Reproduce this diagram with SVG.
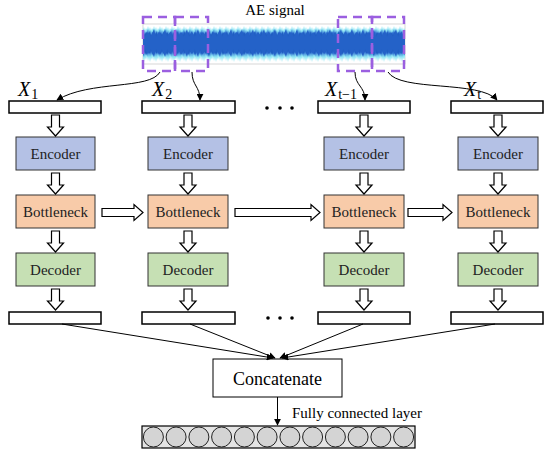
<svg xmlns="http://www.w3.org/2000/svg" width="550" height="452" viewBox="0 0 550 452">
<defs>
<style>
.lbl{font-family:"Liberation Serif","DejaVu Serif",serif;font-size:15px;fill:#222;text-anchor:middle}
.enc{fill:#b4c1e5;stroke:#333;stroke-width:1}
.bot{fill:#f8cba9;stroke:#333;stroke-width:1}
.dec{fill:#c6e0b4;stroke:#333;stroke-width:1}
.bar{fill:#fff;stroke:#000;stroke-width:1.5}
.hol{fill:#fff;stroke:#000;stroke-width:1.2}
.dash{fill:none;stroke:#9b5fe0;stroke-width:2.5;stroke-dasharray:9 6}
.con{fill:none;stroke:#000;stroke-width:1}
.xl{font-family:"Liberation Serif","DejaVu Serif",serif;font-style:italic;font-size:20px;fill:#000}
.xs{font-size:14px;font-style:normal}
.tx{font-family:"Liberation Serif","DejaVu Serif",serif;fill:#000}
</style>
<marker id="ah" viewBox="0 0 10 10" refX="9" refY="5" markerWidth="7" markerHeight="7" orient="auto-start-reverse" markerUnits="userSpaceOnUse">
<path d="M0,0 L10,5 L0,10 Z" fill="#000"/>
</marker>
<path id="va" d="M-4,0 H4 V12 H8 L0,21 L-8,12 H-4 Z"/>
<pattern id="n1" x="143" y="20" width="6" height="46" patternUnits="userSpaceOnUse">
<polygon points="0,10 1,7 2,11 3,8 4,10 5,6 6,10 6,37 5,41 4,36 3,40 2,37 1,42 0,37" fill="#8fe6f4"/>
<polygon points="0,14 1,10 2,15 3,11 4,13 5,9 6,14 6,32 5,37 4,33 3,36 2,32 1,37 0,32" fill="#2b6bd0"/>
</pattern>
<pattern id="n2" x="141" y="20" width="7" height="46" patternUnits="userSpaceOnUse">
<polygon points="0,15 2,11 3,16 5,12 7,15 7,31 5,35 3,30 2,34 0,31" fill="#1f5ec2"/>
</pattern>
<pattern id="n3" x="140" y="20" width="11" height="46" patternUnits="userSpaceOnUse">
<polygon points="0,17 3,9 5,17 8,12 11,17 11,29 8,34 5,29 3,37 0,29" fill="#2462c8"/>
</pattern>
</defs>
<rect width="550" height="452" fill="#fff"/>

<g id="signal">
<text class="tx" x="275" y="15" font-size="15" text-anchor="middle">AE signal</text>
<rect x="143" y="24" width="262" height="40" fill="#fff" stroke="#bbb" stroke-width="0.6"/>
<rect x="143" y="24" width="262" height="40" fill="url(#n1)"/>
<rect x="143" y="24" width="262" height="40" fill="url(#n2)"/>
<rect x="143" y="24" width="262" height="40" fill="url(#n3)"/>
<rect x="143" y="17" width="32" height="54" class="dash"/>
<rect x="175" y="17" width="33" height="54" class="dash"/>
<rect x="338" y="17" width="34" height="54" class="dash"/>
<rect x="372" y="17" width="32" height="54" class="dash"/>
</g>

<g id="labels">
<text class="xl" x="18" y="96">X<tspan class="xs" dx="1" dy="3">1</tspan></text>
<text class="xl" x="152" y="96">X<tspan class="xs" dx="1" dy="3">2</tspan></text>
<text class="xl" x="325" y="96">X<tspan class="xs" dx="1" dy="3">t−1</tspan></text>
<text class="xl" x="464" y="96">X<tspan class="xs" dx="1" dy="3">t</tspan></text>
</g>

<g id="inputs">
<rect class="bar" x="9" y="101" width="92" height="12"/>
<rect class="bar" x="142" y="101" width="93" height="12"/>
<rect class="bar" x="318" y="101" width="92" height="12"/>
<rect class="bar" x="451" y="101" width="92" height="12"/>
<circle cx="267" cy="108" r="1.8"/><circle cx="280" cy="108" r="1.8"/><circle cx="292" cy="108" r="1.8"/>
</g>

<g id="col1">
<rect class="enc" x="16" y="137" width="79" height="33"/><text class="lbl" x="55.5" y="159">Encoder</text>
<rect class="bot" x="16" y="195" width="79" height="33"/><text class="lbl" x="55.5" y="217">Bottleneck</text>
<rect class="dec" x="16" y="253" width="79" height="33"/><text class="lbl" x="55.5" y="275">Decoder</text>
</g>
<g id="col2">
<rect class="enc" x="148" y="137" width="80" height="33"/><text class="lbl" x="188" y="159">Encoder</text>
<rect class="bot" x="148" y="195" width="80" height="33"/><text class="lbl" x="188" y="217">Bottleneck</text>
<rect class="dec" x="148" y="253" width="80" height="33"/><text class="lbl" x="188" y="275">Decoder</text>
</g>
<g id="col3">
<rect class="enc" x="324" y="137" width="80" height="33"/><text class="lbl" x="364" y="159">Encoder</text>
<rect class="bot" x="324" y="195" width="80" height="33"/><text class="lbl" x="364" y="217">Bottleneck</text>
<rect class="dec" x="324" y="253" width="80" height="33"/><text class="lbl" x="364" y="275">Decoder</text>
</g>
<g id="col4">
<rect class="enc" x="458" y="137" width="80" height="33"/><text class="lbl" x="498" y="159">Encoder</text>
<rect class="bot" x="458" y="195" width="80" height="33"/><text class="lbl" x="498" y="217">Bottleneck</text>
<rect class="dec" x="458" y="253" width="80" height="33"/><text class="lbl" x="498" y="275">Decoder</text>
</g>

<g id="outputs">
<rect class="bar" x="9" y="312" width="92" height="12"/>
<rect class="bar" x="142" y="312" width="93" height="12"/>
<rect class="bar" x="318" y="312" width="92" height="12"/>
<rect class="bar" x="451" y="312" width="92" height="12"/>
<circle cx="268" cy="318" r="1.8"/><circle cx="280" cy="318" r="1.8"/><circle cx="292" cy="318" r="1.8"/>
</g>

<g id="concat">
<rect x="213" y="359" width="129" height="38" fill="#fff" stroke="#000" stroke-width="1"/>
<text class="tx" x="277.5" y="385" font-size="18" text-anchor="middle">Concatenate</text>
</g>

<g id="fc">
<text class="tx" x="292" y="418" font-size="15">Fully connected layer</text>
<rect x="142" y="426" width="273" height="22" fill="#e4e4e4" stroke="#000" stroke-width="1.2"/>
<g fill="#d4d4d4" stroke="#222" stroke-width="1">
<circle cx="153.4" cy="437" r="10"/><circle cx="176.1" cy="437" r="10"/><circle cx="198.9" cy="437" r="10"/><circle cx="221.6" cy="437" r="10"/><circle cx="244.4" cy="437" r="10"/><circle cx="267.1" cy="437" r="10"/><circle cx="289.9" cy="437" r="10"/><circle cx="312.6" cy="437" r="10"/><circle cx="335.4" cy="437" r="10"/><circle cx="358.1" cy="437" r="10"/><circle cx="380.9" cy="437" r="10"/><circle cx="403.6" cy="437" r="10"/>
</g>
</g>

<g id="connectors">
<path class="con" d="M160,72 C150,90 90,80 57,100" marker-end="url(#ah)"/>
<path class="con" d="M192,72 C192,86 200,86 200,100" marker-end="url(#ah)"/>
<path class="con" d="M355,72 C355,86 365,86 365,100" marker-end="url(#ah)"/>
<path class="con" d="M388,72 C400,92 480,80 497,100" marker-end="url(#ah)"/>
<g class="hol">
<use href="#va" x="55.5" y="115"/><use href="#va" x="188" y="115"/><use href="#va" x="364" y="115"/><use href="#va" x="498" y="115"/>
<use href="#va" x="55.5" y="173"/><use href="#va" x="188" y="173"/><use href="#va" x="364" y="173"/><use href="#va" x="498" y="173"/>
<use href="#va" x="55.5" y="231"/><use href="#va" x="188" y="231"/><use href="#va" x="364" y="231"/><use href="#va" x="498" y="231"/>
<use href="#va" x="55.5" y="289"/><use href="#va" x="188" y="289"/><use href="#va" x="364" y="289"/><use href="#va" x="498" y="289"/>
<path d="M102,208.5 H134 V204.5 L143,212.5 L134,220.5 V216.5 H102 Z"/>
<path d="M235,208.5 H311 V204.5 L320,212.5 L311,220.5 V216.5 H235 Z"/>
<path d="M408,208.5 H443 V204.5 L452,212.5 L443,220.5 V216.5 H408 Z"/>
</g>
<path class="con" d="M62,324 L273,358" marker-end="url(#ah)"/>
<path class="con" d="M190,324 L275,358" marker-end="url(#ah)"/>
<path class="con" d="M363,324 L280,358" marker-end="url(#ah)"/>
<path class="con" d="M495,324 L282,358" marker-end="url(#ah)"/>
<path class="con" d="M277.5,397 L277.5,425" marker-end="url(#ah)"/>
</g>
</svg>
